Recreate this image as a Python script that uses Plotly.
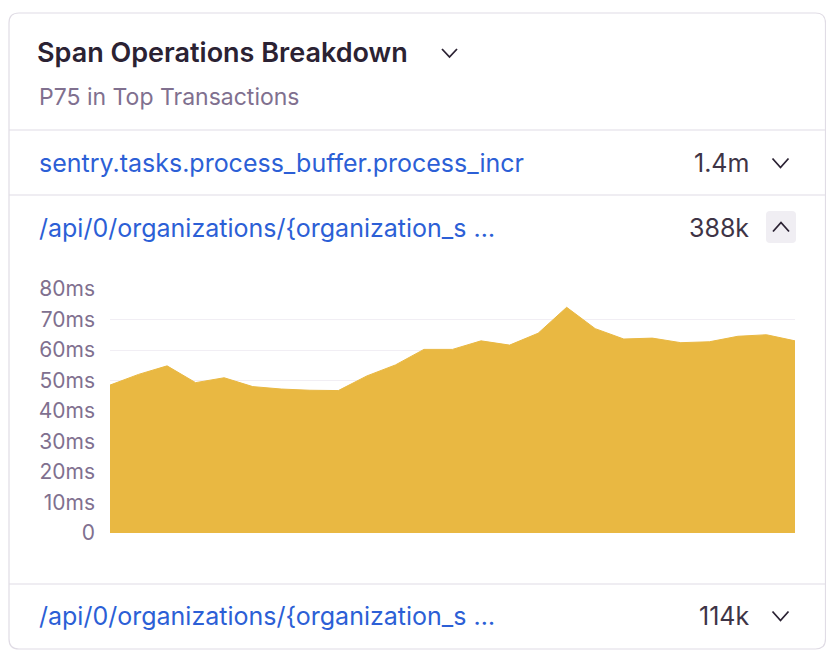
import plotly.graph_objects as go

# the page body has an 8px margin, so the figure is a bit smaller than the window
W, H = 818, 644
OFF = 8

# P75 duration (ms) per time bucket for the expanded transaction
p75_ms = [48.5, 52.0, 54.8, 49.3, 50.9, 48.0, 47.2, 46.8, 46.7, 51.5,
          55.1, 60.2, 60.2, 63.0, 61.6, 65.5, 74.0, 67.0, 63.6, 63.9,
          62.4, 62.7, 64.5, 65.0, 63.0]
buckets = list(range(len(p75_ms)))

y_ticks = [0, 10, 20, 30, 40, 50, 60, 70, 80]
y_tick_text = ["0"] + [f"{v}ms" for v in y_ticks[1:]]

rows = [
    ("sentry.tasks.process_buffer.process_incr", "1.4m"),
    ("/api/0/organizations/{organization_s …", "388k"),
    ("/api/0/organizations/{organization_s …", "114k"),
]

FONT = "Inter"
DARK = "#2b2233"
MUTED = "#80708f"
LINK = "#2c5fd6"
BORDER = "#e0dce5"
YELLOW = "#e9b842"


def px(x):
    return (x - OFF) / W


def py(y):
    return 1 - (y - OFF) / H


def rounded(x0, y0, x1, y1, r):
    return (f"M {px(x0 + r)} {py(y0)} L {px(x1 - r)} {py(y0)} "
            f"Q {px(x1)} {py(y0)} {px(x1)} {py(y0 + r)} "
            f"L {px(x1)} {py(y1 - r)} Q {px(x1)} {py(y1)} {px(x1 - r)} {py(y1)} "
            f"L {px(x0 + r)} {py(y1)} Q {px(x0)} {py(y1)} {px(x0)} {py(y1 - r)} "
            f"L {px(x0)} {py(y0 + r)} Q {px(x0)} {py(y0)} {px(x0 + r)} {py(y0)} Z")


fig = go.Figure()

fig.add_trace(go.Scatter(
    x=buckets, y=p75_ms,
    mode="lines",
    fill="tozeroy",
    fillcolor=YELLOW,
    line=dict(color=YELLOW, width=1),
    hoverinfo="skip",
))

# card outline
cx0, cx1 = 9, 825.5
shapes = [dict(type="path", path=rounded(cx0, 13, cx1, 649, 10),
               xref="paper", yref="paper",
               line=dict(color=BORDER, width=1.2), layer="below")]

# row dividers
for yy in [130, 195, 584]:
    shapes.append(dict(type="line", xref="paper", yref="paper",
                       x0=px(cx0), x1=px(cx1), y0=py(yy), y1=py(yy),
                       line=dict(color=BORDER, width=1.2)))

# grey box behind the expanded row's chevron
shapes.append(dict(type="path", path=rounded(766, 211, 796, 243, 4),
                   xref="paper", yref="paper",
                   fillcolor="#f0eef3", line=dict(width=0), layer="below"))


def chevron(cx, cy, up=False, w=8, h=4.5, color=DARK):
    d = -h if up else h
    path = (f"M {px(cx - w)} {py(cy - d)} L {px(cx)} {py(cy + d)} "
            f"L {px(cx + w)} {py(cy - d)}")
    return dict(type="path", path=path, xref="paper", yref="paper",
                line=dict(color=color, width=1.8))


shapes.append(chevron(449.5, 53, w=7.5, h=4))
shapes.append(chevron(780.5, 163))
shapes.append(chevron(781, 227, up=True))
shapes.append(chevron(780.5, 616))

annotations = [
    dict(text="Span Operations Breakdown", x=px(35), y=py(53),
         font=dict(family=FONT, size=27, color=DARK, weight=600)),
    dict(text="P75 in Top Transactions", x=px(37), y=py(97),
         font=dict(family=FONT, size=23, color=MUTED)),
]
row_y = [163, 228, 616]
for (name, count), yy in zip(rows, row_y):
    annotations.append(dict(text=name, x=px(37), y=py(yy),
                            font=dict(family=FONT, size=25, color=LINK)))
    annotations.append(dict(text=count, x=px(751), y=py(yy), xanchor="right",
                            font=dict(family=FONT, size=25, color="#3e3446")))
for a in annotations:
    a.setdefault("xanchor", "left")
    a.update(xref="paper", yref="paper", yanchor="middle", showarrow=False)

fig.update_layout(
    width=W, height=H,
    margin=dict(l=0, r=0, t=0, b=0, pad=0),
    paper_bgcolor="white",
    plot_bgcolor="white",
    showlegend=False,
    shapes=shapes,
    annotations=annotations,
    xaxis=dict(domain=[px(110), px(795)], range=[0, len(p75_ms) - 1],
               showgrid=False, zeroline=False, showticklabels=False,
               showline=False, fixedrange=True, automargin=False),
    yaxis=dict(domain=[py(533), py(289)], range=[0, 80],
               tickvals=y_ticks, ticktext=y_tick_text,
               showgrid=True, gridcolor="#f1eef4", gridwidth=1,
               zeroline=False, showline=False,
               ticks="", ticklabelstandoff=14,
               tickfont=dict(family=FONT, size=21, color=MUTED),
               fixedrange=True, automargin=False),
)

fig.write_html("out.html")
